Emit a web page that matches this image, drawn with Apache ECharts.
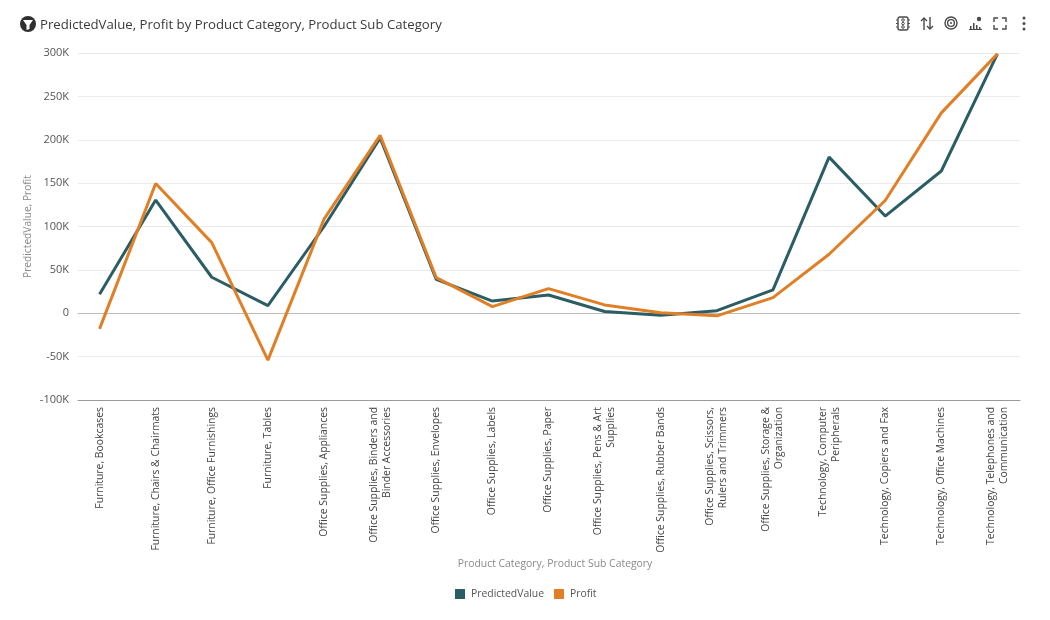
<!DOCTYPE html>
<html>
<head>
<meta charset="utf-8">
<title>PredictedValue, Profit</title>
<script src="https://cdn.jsdelivr.net/npm/echarts@6/dist/echarts.min.js"></script>
<style>
html,body{margin:0;padding:0;background:#fff}
#main{width:1050px;height:620px}
</style>
</head>
<body>
<div id="main"></div>
<script>
var categories = [
	'Furniture, Bookcases',
	'Furniture, Chairs & Chairmats',
	'Furniture, Office Furnishings',
	'Furniture, Tables',
	'Office Supplies, Appliances',
	'Office Supplies, Binders and\nBinder Accessories',
	'Office Supplies, Envelopes',
	'Office Supplies, Labels',
	'Office Supplies, Paper',
	'Office Supplies, Pens & Art\nSupplies',
	'Office Supplies, Rubber Bands',
	'Office Supplies, Scissors,\nRulers and Trimmers',
	'Office Supplies, Storage &\nOrganization',
	'Technology, Computer\nPeripherals',
	'Technology, Copiers and Fax',
	'Technology, Office Machines',
	'Technology, Telephones and\nCommunication'
];
var predictedValue = [22, 130.5, 41.5, 8.8, 100, 202, 39, 14, 21, 2, -2.3, 3, 27, 180, 112, 164, 299];
var profit = [-18, 149.5, 81.4, -54, 108.5, 205, 41, 7.6, 28.4, 9.6, 0.7, -3, 18, 68, 130, 231, 299];
var yMin = -100, yMax = 300, yStep = 50;

var font = '"Open Sans", "Noto Sans", sans-serif';
var iconColor = '#4a4a4a';

function stroke(w) {
	return {stroke: iconColor, lineWidth: w || 1.4, fill: null};
}
function toolbarIcons() {
	var els = [];
	// stoplight
	els.push({type: 'rect', shape: {x: 898, y: 17, width: 10, height: 13, r: 2}, style: stroke()});
	[20, 23.5, 27].forEach(function (y) {
		els.push({type: 'circle', shape: {cx: 903, cy: y, r: 1.3}, style: stroke(1)});
		els.push({type: 'line', shape: {x1: 896, y1: y, x2: 898, y2: y}, style: stroke(1)});
		els.push({type: 'line', shape: {x1: 908, y1: y, x2: 910, y2: y}, style: stroke(1)});
	});
	// sort arrows
	els.push({type: 'polyline', shape: {points: [[924, 30], [924, 18]]}, style: stroke()});
	els.push({type: 'polyline', shape: {points: [[921, 21], [924, 18], [927, 21]]}, style: stroke()});
	els.push({type: 'polyline', shape: {points: [[930, 17], [930, 29]]}, style: stroke()});
	els.push({type: 'polyline', shape: {points: [[927, 26], [930, 29], [933, 26]]}, style: stroke()});
	// target
	els.push({type: 'circle', shape: {cx: 951, cy: 23, r: 6}, style: stroke()});
	els.push({type: 'circle', shape: {cx: 951, cy: 23, r: 3.4}, style: stroke()});
	els.push({type: 'circle', shape: {cx: 951, cy: 23, r: 1}, style: {fill: iconColor}});
	// small bars with dot
	[[970, 26, 3], [973, 23, 6], [976, 25, 4], [979, 27, 2]].forEach(function (b) {
		els.push({type: 'rect', shape: {x: b[0], y: b[1], width: 1.5, height: b[2]}, style: {fill: iconColor}});
	});
	els.push({type: 'line', shape: {x1: 969, y1: 29.5, x2: 982, y2: 29.5}, style: stroke(1)});
	els.push({type: 'circle', shape: {cx: 979, cy: 19, r: 2.2}, style: {fill: iconColor}});
	// fullscreen corners
	[[994, 22, 994, 18, 998, 18], [1002, 18, 1006, 18, 1006, 22], [1006, 25, 1006, 29, 1002, 29], [998, 29, 994, 29, 994, 25]].forEach(function (c) {
		els.push({type: 'polyline', shape: {points: [[c[0], c[1]], [c[2], c[3]], [c[4], c[5]]]}, style: stroke()});
	});
	// kebab
	[18, 23.5, 29].forEach(function (y) {
		els.push({type: 'circle', shape: {cx: 1024, cy: y, r: 1.5}, style: {fill: iconColor}});
	});
	return els;
}

var titleIcon = [
	{type: 'circle', shape: {cx: 28, cy: 24, r: 8}, style: {fill: '#2f2f2f'}},
	{type: 'polygon', shape: {points: [[23, 20], [33, 20], [29.5, 25], [29.5, 29], [26.5, 30], [26.5, 25]]}, style: {fill: '#fff'}}
];

var chart = echarts.init(document.getElementById('main'), null, {renderer: 'canvas'});
chart.setOption({
	animation: false,
	title: [
		{text: 'PredictedValue, Profit by Product Category, Product Sub Category', left: 35, top: 14,
			textStyle: {fontFamily: font, fontSize: 13.2, fontWeight: 'normal', color: '#3a3a3a'}},
		{text: 'Product Category, Product Sub Category', left: 550, top: 554, textAlign: 'center',
			textStyle: {fontFamily: font, fontSize: 10.4, fontWeight: 'normal', color: '#8a8a8a'}}
	],
	legend: {
		left: 450, top: 584, icon: 'rect', itemWidth: 10, itemHeight: 10, itemGap: 10,
		textStyle: {fontFamily: font, fontSize: 10.4, color: '#555', padding: [0, 0, 0, 1]},
		data: ['PredictedValue', 'Profit']
	},
	grid: [
		{left: 78, right: 30, top: 53, bottom: 220},
		{left: 71.5, right: 24.5, top: 53, bottom: 220}
	],
	xAxis: [
		{gridIndex: 0, type: 'value', min: 0, max: 1, position: 'bottom',
			axisLine: {show: true, onZero: false, lineStyle: {color: '#9a9a9a', width: 1}},
			axisTick: {show: false}, axisLabel: {show: false}, splitLine: {show: false}},
		{gridIndex: 0, type: 'value', min: 0, max: 1, position: 'top',
			axisLine: {show: true, onZero: true, lineStyle: {color: '#bdbdbd', width: 1}},
			axisTick: {show: false}, axisLabel: {show: false}, splitLine: {show: false}},
		{gridIndex: 1, type: 'category', data: categories, position: 'bottom',
			axisLine: {show: false, onZero: false}, axisTick: {show: false},
			axisLabel: {interval: 0, rotate: 90, margin: 7, align: 'right', verticalAlign: 'middle',
				fontFamily: font, fontSize: 10.4, lineHeight: 13, color: '#444'}}
	],
	yAxis: [
		{gridIndex: 0, type: 'value', min: yMin, max: yMax, interval: yStep,
			name: 'PredictedValue, Profit', nameLocation: 'middle', nameGap: 45, nameMoveOverlap: false,
			nameTextStyle: {fontFamily: font, fontSize: 10.2, color: '#8a8a8a'},
			axisLine: {show: false}, axisTick: {show: false},
			axisLabel: {margin: 9, fontFamily: font, fontSize: 11, color: '#555',
				formatter: function (v) { return v === 0 ? '0' : v + 'K'; }},
			splitLine: {show: true, lineStyle: {color: '#ebebef', width: 1}}},
		{gridIndex: 1, type: 'value', min: yMin, max: yMax, interval: yStep, show: false}
	],
	series: [
		{name: 'PredictedValue', type: 'line', xAxisIndex: 2, yAxisIndex: 1, data: predictedValue,
			symbol: 'none', itemStyle: {color: '#2b5d65'}, lineStyle: {color: '#2b5d65', width: 3}},
		{name: 'Profit', type: 'line', xAxisIndex: 2, yAxisIndex: 1, data: profit,
			symbol: 'none', itemStyle: {color: '#e07f26'}, lineStyle: {color: '#e07f26', width: 3}}
	],
	graphic: titleIcon.concat(toolbarIcons())
});
</script>
</body>
</html>
